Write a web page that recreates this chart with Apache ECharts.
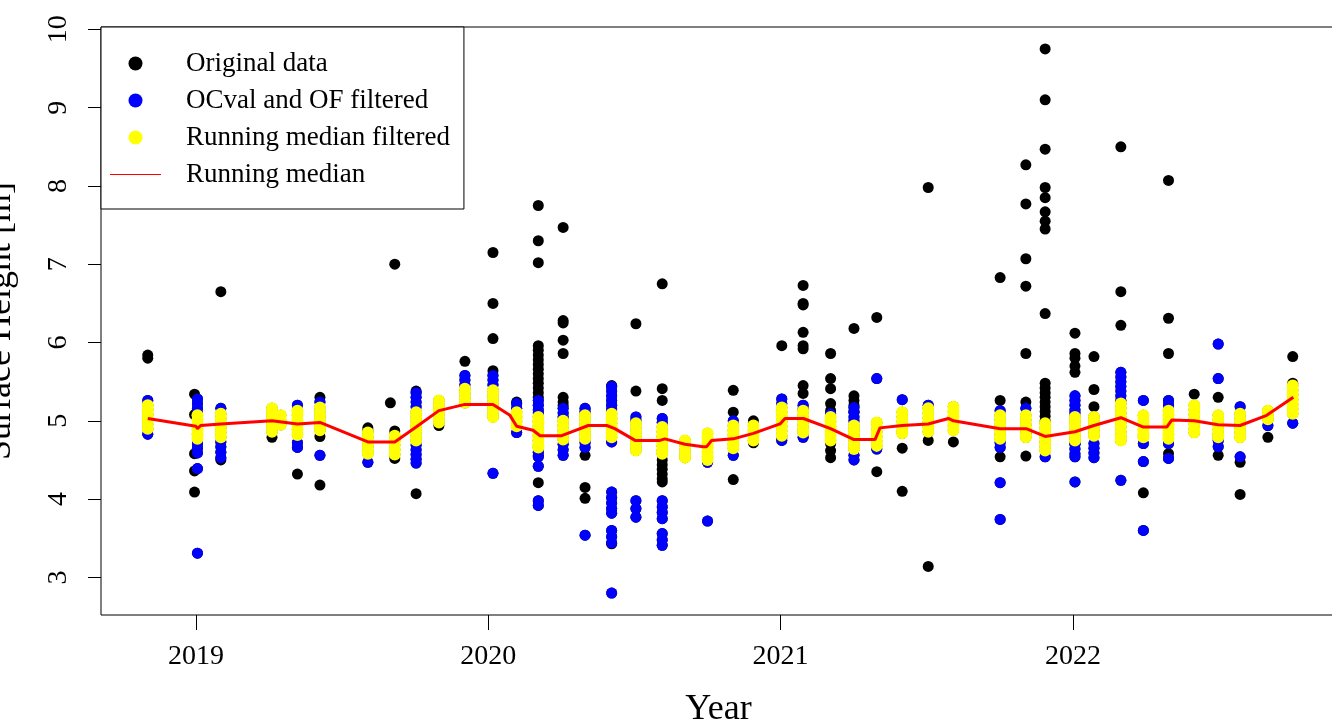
<!DOCTYPE html>
<html>
<head>
<meta charset="utf-8">
<title>Surface height</title>
<script src="https://cdn.jsdelivr.net/npm/echarts@6/dist/echarts.min.js"></script>
<style>
  html, body { margin: 0; padding: 0; background: #fff; }
  #echarts_id { width: 1332px; height: 726px; }
</style>
</head>
<body>
<div id="echarts_id"></div>
<script>
// 刻度
var yearTicks = [2019, 2020, 2021, 2022];
var heightTicks = [3, 4, 5, 6, 7, 8, 9, 10];

// Running median filtered (yellow): [date, [heights...]]
var medianFilteredPts = [
    [2018.835, [5.20, 5.14, 5.08, 5.02, 4.96, 4.90]],
    [2019.005, [5.07, 5.01, 4.95, 4.89, 4.83, 4.77]],
    [2019.085, [5.09, 5.03, 4.97, 4.91, 4.85, 4.79]],
    [2019.26, [5.16, 5.10, 5.04, 4.98, 4.92, 4.86]],
    [2019.29, [5.07, 5.00, 4.95]],
    [2019.347, [5.13, 5.07, 5.01, 4.95, 4.89, 4.82]],
    [2019.424, [5.17, 5.11, 5.05, 4.99, 4.93, 4.88]],
    [2019.588, [4.85, 4.79, 4.73, 4.67, 4.61, 4.58]],
    [2019.68, [4.81, 4.75, 4.69, 4.63, 4.57]],
    [2019.753, [5.11, 5.05, 4.99, 4.93, 4.87, 4.81, 4.75]],
    [2019.831, [5.26, 5.20, 5.14, 5.08, 5.02, 4.98]],
    [2019.92, [5.41, 5.35, 5.29, 5.23]],
    [2020.016, [5.39, 5.33, 5.27, 5.21, 5.15, 5.09, 5.05]],
    [2020.097, [5.11, 5.05, 4.99, 4.93]],
    [2020.171, [5.05, 4.99, 4.93, 4.87, 4.81, 4.75, 4.69, 4.66]],
    [2020.256, [5.00, 4.94, 4.88, 4.82, 4.76]],
    [2020.331, [5.07, 5.01, 4.95, 4.89, 4.83, 4.77]],
    [2020.422, [5.09, 5.03, 4.97, 4.91, 4.85, 4.79]],
    [2020.505, [4.97, 4.91, 4.85, 4.79, 4.73, 4.67, 4.62]],
    [2020.595, [4.92, 4.86, 4.80, 4.74, 4.68, 4.62, 4.58]],
    [2020.673, [4.75, 4.69, 4.63, 4.57, 4.53]],
    [2020.75, [4.84, 4.78, 4.72, 4.66, 4.60, 4.54, 4.50]],
    [2020.838, [4.94, 4.88, 4.82, 4.76, 4.70, 4.65]],
    [2020.907, [4.94, 4.88, 4.82, 4.75]],
    [2021.004, [5.17, 5.11, 5.05, 4.99, 4.93, 4.87, 4.81]],
    [2021.077, [5.13, 5.07, 5.01, 4.95, 4.89, 4.85]],
    [2021.171, [5.05, 4.99, 4.93, 4.87, 4.81, 4.75]],
    [2021.251, [4.94, 4.88, 4.82, 4.76, 4.70, 4.64]],
    [2021.329, [4.98, 4.92, 4.86, 4.80, 4.74, 4.68]],
    [2021.416, [5.11, 5.05, 4.99, 4.93, 4.87, 4.84]],
    [2021.505, [5.16, 5.10, 5.04, 4.98, 4.92, 4.86]],
    [2021.591, [5.18, 5.12, 5.06, 5.00, 4.94, 4.88]],
    [2021.751, [5.07, 5.01, 4.95, 4.89, 4.83, 4.77]],
    [2021.839, [5.07, 5.01, 4.95, 4.89, 4.83, 4.79]],
    [2021.905, [4.97, 4.91, 4.85, 4.79, 4.73, 4.67, 4.62]],
    [2022.007, [5.05, 4.99, 4.93, 4.87, 4.81, 4.75]],
    [2022.072, [5.05, 4.99, 4.93, 4.87, 4.81]],
    [2022.164, [5.22, 5.16, 5.10, 5.04, 4.98, 4.92, 4.86, 4.80, 4.75]],
    [2022.241, [5.07, 5.01, 4.95, 4.89, 4.83, 4.79]],
    [2022.327, [5.13, 5.07, 5.01, 4.95, 4.89, 4.83, 4.77]],
    [2022.415, [5.20, 5.14, 5.08, 5.02, 4.96, 4.90, 4.85]],
    [2022.497, [5.07, 5.01, 4.95, 4.89, 4.83, 4.79]],
    [2022.572, [5.09, 5.03, 4.97, 4.91, 4.85, 4.79]],
    [2022.667, [5.13, 5.07, 5.02]],
    [2022.752, [5.45, 5.39, 5.33, 5.27, 5.21, 5.15, 5.09]]
];

// OCval and OF filtered, removed by the running median (blue only)
var ocvalOnlyPts = [
    [2018.835, [5.26, 4.83]],
    [2019.005, [5.28, 5.22, 5.16, 5.10, 4.71, 4.65, 4.59, 4.39, 3.31]],
    [2019.085, [5.16, 4.73, 4.67, 4.60, 4.53]],
    [2019.347, [5.20, 4.72, 4.66]],
    [2019.424, [5.24, 4.56]],
    [2019.588, [4.47]],
    [2019.753, [5.36, 5.30, 5.24, 5.18, 4.69, 4.63, 4.57, 4.51, 4.46]],
    [2019.92, [5.58, 5.52, 5.46]],
    [2020.016, [5.58, 5.52, 5.46, 4.33]],
    [2020.097, [5.22, 5.16, 4.85]],
    [2020.171, [5.26, 5.20, 5.14, 5.10, 4.60, 4.54, 4.42, 3.98, 3.92]],
    [2020.256, [5.16, 5.10, 5.05, 4.70, 4.63, 4.56]],
    [2020.331, [5.16, 5.12, 4.72, 4.66, 3.54]],
    [2020.422, [5.44, 5.38, 5.32, 5.26, 5.20, 5.15, 4.73, 4.09, 4.02, 3.95, 3.88, 3.82, 3.60, 3.52, 3.44, 2.80]],
    [2020.505, [5.05, 5.01, 3.98, 3.88, 3.77]],
    [2020.595, [5.03, 4.98, 3.98, 3.90, 3.83, 3.75, 3.56, 3.48, 3.41]],
    [2020.75, [4.47, 3.72]],
    [2020.838, [5.00, 4.56]],
    [2021.004, [5.28, 5.22, 4.75]],
    [2021.077, [5.20, 4.79]],
    [2021.171, [5.09]],
    [2021.251, [5.17, 5.11, 5.05, 5.00, 4.56, 4.50]],
    [2021.329, [5.54, 4.64]],
    [2021.416, [5.27]],
    [2021.505, [5.20]],
    [2021.751, [5.13, 4.72, 4.66, 4.21, 3.74]],
    [2021.839, [5.16, 4.84]],
    [2021.905, [4.54]],
    [2022.007, [5.32, 5.26, 5.20, 5.14, 5.10, 4.70, 4.64, 4.58, 4.54, 4.22]],
    [2022.072, [4.71, 4.65, 4.59, 4.53]],
    [2022.164, [5.62, 5.56, 5.50, 5.44, 5.38, 5.32, 5.26, 4.24]],
    [2022.241, [5.26, 4.71, 4.48, 3.60]],
    [2022.327, [5.26, 5.20, 4.71, 4.52]],
    [2022.497, [5.98, 5.54, 4.75, 4.67]],
    [2022.572, [5.18, 4.54]],
    [2022.667, [4.94]],
    [2022.752, [4.97]]
];

// Original data removed by OCval and OF (black only)
var originalOnlyPts = [
    [2018.835, [5.80, 5.84]],
    [2018.995, [5.34, 5.08, 4.58, 4.36, 4.09]],
    [2019.085, [6.65, 4.50]],
    [2019.26, [4.79]],
    [2019.347, [4.32]],
    [2019.424, [5.30, 4.80, 4.18]],
    [2019.588, [4.91, 4.88]],
    [2019.665, [5.23]],
    [2019.68, [7.00, 4.87, 4.52]],
    [2019.753, [5.38, 4.07]],
    [2019.831, [4.94]],
    [2019.92, [5.76]],
    [2020.016, [7.15, 6.50, 6.05, 5.64]],
    [2020.097, [5.24]],
    [2020.171, [7.75, 7.30, 7.02, 5.96, 5.90, 5.84, 5.78, 5.72, 5.66, 5.60, 5.54, 5.48, 5.42, 5.36, 5.30, 4.56, 4.21]],
    [2020.256, [7.47, 6.28, 6.25, 6.03, 5.86, 5.30, 5.24, 5.20]],
    [2020.331, [4.56, 4.15, 4.01]],
    [2020.422, [5.45, 3.43]],
    [2020.505, [6.24, 5.38]],
    [2020.595, [6.75, 5.41, 5.26, 4.50, 4.44, 4.38, 4.32, 4.26, 4.22]],
    [2020.838, [5.39, 5.11, 4.25]],
    [2020.907, [5.00, 4.72]],
    [2021.004, [5.96, 4.78]],
    [2021.077, [6.73, 6.50, 6.48, 6.13, 5.96, 5.92, 5.45, 5.35, 5.16]],
    [2021.171, [5.86, 5.54, 5.41, 5.22, 5.13, 4.71, 4.62, 4.53]],
    [2021.251, [6.18, 5.32, 5.26, 5.20, 5.12]],
    [2021.329, [6.32, 4.35]],
    [2021.416, [4.65, 4.10]],
    [2021.505, [7.98, 4.75, 3.14]],
    [2021.591, [5.18, 4.73]],
    [2021.751, [6.83, 5.26, 4.54]],
    [2021.839, [8.27, 7.77, 7.07, 6.72, 5.86, 5.24, 4.55]],
    [2021.905, [9.75, 9.10, 8.47, 7.98, 7.85, 7.67, 7.55, 7.45, 6.37, 5.48, 5.42, 5.36, 5.30, 5.24, 5.18, 5.12, 5.06, 5.00]],
    [2022.007, [6.12, 5.86, 5.80, 5.70, 5.62, 4.71]],
    [2022.072, [5.82, 5.40, 5.18]],
    [2022.164, [8.50, 6.65, 6.22]],
    [2022.241, [4.08]],
    [2022.327, [8.07, 6.31, 5.86, 4.58]],
    [2022.415, [5.34]],
    [2022.497, [5.30, 4.56]],
    [2022.572, [4.47, 4.06]],
    [2022.667, [4.79]],
    [2022.752, [5.82, 5.48]]
];

// Running median (red line)
var runningMedian = [
    [2018.835, 5.03], [2019.0, 4.93], [2019.005, 4.90], [2019.016, 4.94], [2019.085, 4.96],
    [2019.26, 5.00], [2019.347, 4.96], [2019.424, 4.98], [2019.588, 4.73], [2019.68, 4.73],
    [2019.753, 4.92], [2019.831, 5.13], [2019.92, 5.21], [2020.016, 5.21], [2020.074, 5.07],
    [2020.097, 4.93], [2020.153, 4.88], [2020.177, 4.81], [2020.251, 4.81], [2020.285, 4.86],
    [2020.342, 4.94], [2020.405, 4.94], [2020.433, 4.90], [2020.502, 4.75], [2020.587, 4.75],
    [2020.604, 4.77], [2020.673, 4.70], [2020.735, 4.67], [2020.747, 4.67], [2020.764, 4.75],
    [2020.838, 4.77], [2020.907, 4.84], [2020.998, 4.96], [2021.015, 5.03], [2021.078, 5.03],
    [2021.171, 4.90], [2021.251, 4.76], [2021.323, 4.76], [2021.340, 4.91], [2021.416, 4.94],
    [2021.505, 4.96], [2021.574, 5.03], [2021.591, 5.00], [2021.751, 4.90], [2021.840, 4.90],
    [2021.905, 4.80], [2022.007, 4.86], [2022.072, 4.94], [2022.164, 5.04], [2022.241, 4.92],
    [2022.321, 4.92], [2022.338, 5.01], [2022.415, 5.00], [2022.497, 4.95], [2022.572, 4.94],
    [2022.663, 5.07], [2022.754, 5.30]
];

function expand(list) {
    var out = [];
    list.forEach(function (d) {
        d[1].forEach(function (v) { out.push([d[0], v]); });
    });
    return out;
}

var yellowData = expand(medianFilteredPts);
var blueData = expand(ocvalOnlyPts).concat(yellowData);
var blackData = expand(originalOnlyPts).concat(blueData);

var serifFont = "'Liberation Serif', 'DejaVu Serif', serif";

var myChart = echarts.init(document.getElementById('echarts_id'));

option = {
    animation: false,
    textStyle: { fontFamily: serifFont, color: '#000' },
    grid: {
        left: 101, top: 27, width: 1235, height: 588,
        containLabel: false, outerBoundsMode: 'none',
        show: true, borderColor: '#000', borderWidth: 1, backgroundColor: '#fff'
    },
    legend: {
        orient: 'vertical',
        left: 101, top: 27,
        padding: [23, 14, 21, 9],
        itemGap: 10,
        itemWidth: 51,
        itemHeight: 14,
        borderColor: '#000', borderWidth: 1, borderRadius: 0,
        backgroundColor: '#fff',
        itemStyle: { borderWidth: 0 },
        textStyle: { fontFamily: serifFont, fontSize: 27, lineHeight: 24, color: '#000', padding: [0, 0, 0, 20] },
        data: [
            { name: 'Original data', icon: 'circle' },
            { name: 'OCval and OF filtered', icon: 'circle' },
            { name: 'Running median filtered', icon: 'circle' },
            { name: 'Running median', icon: 'path://M0,0H50V1H0Z' }
        ]
    },
    xAxis: {
        type: 'value',
        min: 2018.675, max: 2022.9,
        name: 'Year', nameLocation: 'middle', nameGap: 77,
        nameTextStyle: { fontFamily: serifFont, fontSize: 36, color: '#000' },
        axisLine: { show: false },
        axisTick: { show: true, length: 15, lineStyle: { color: '#000', width: 1 }, customValues: yearTicks },
        axisLabel: { fontFamily: serifFont, fontSize: 28, color: '#000', margin: 28, customValues: yearTicks, formatter: function (v) { return String(v); } },
        splitLine: { show: false }
    },
    yAxis: {
        type: 'value',
        min: 2.52, max: 10.03,
        name: 'Surface Height [m]', nameLocation: 'middle', nameGap: 82,
        nameTextStyle: { fontFamily: serifFont, fontSize: 36, color: '#000' },
        axisLine: { show: false },
        axisTick: { show: true, length: 13, lineStyle: { color: '#000', width: 1 }, customValues: heightTicks },
        axisLabel: { fontFamily: serifFont, fontSize: 28, color: '#000', margin: 28, rotate: 90, customValues: heightTicks },
        splitLine: { show: false }
    },
    series: [
        {
            name: 'Original data', type: 'scatter', symbol: 'circle', symbolSize: 11,
            itemStyle: { color: '#000000', opacity: 1 }, data: blackData
        },
        {
            name: 'OCval and OF filtered', type: 'scatter', symbol: 'circle', symbolSize: 11,
            itemStyle: { color: '#0000ff', opacity: 1 }, data: blueData
        },
        {
            name: 'Running median filtered', type: 'scatter', symbol: 'circle', symbolSize: 12,
            itemStyle: { color: '#ffff00', opacity: 1 }, data: yellowData
        },
        {
            name: 'Running median', type: 'line', showSymbol: false, symbol: 'none',
            lineStyle: { color: '#ff0000', width: 3 }, itemStyle: { color: '#ff0000' },
            data: runningMedian, z: 5
        }
    ]
};

myChart.setOption(option);
</script>
</body>
</html>
